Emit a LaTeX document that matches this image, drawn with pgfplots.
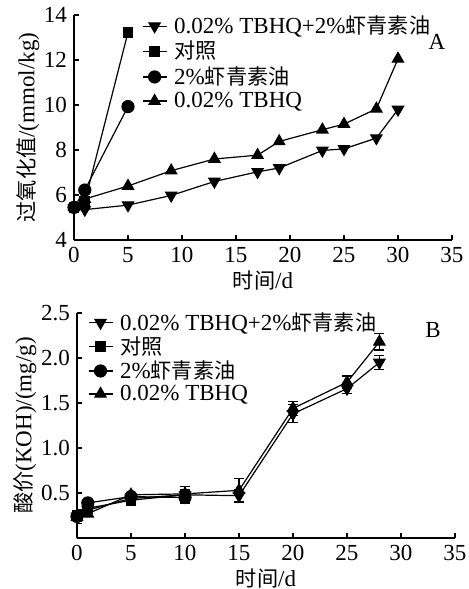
\documentclass[border=0pt]{standalone}
\usepackage{fontspec}
\setmainfont{Liberation Serif}
\newfontfamily\cjk[Scale=0.92]{Noto Sans CJK SC}
\usepackage{pgfplots}
\pgfplotsset{compat=1.18}

\pgfplotsset{
  chart/.style={
    scale only axis, width=189pt, height=112.5pt,
    axis lines*=left, axis line style={-, line width=0.7pt},
    tick align=inside, major tick length=2.5pt, tick style={line width=0.6pt, black},
    xmin=0, xmax=35, xtick={0,5,...,35},
    font=\fontsize{11.5}{13.5}\selectfont,
    /pgf/number format/assume math mode=true,
    xlabel={{\cjk 时间}/d},
    xlabel style={at={(axis description cs:0.5,-0.178)}, anchor=center},
    legend cell align=left,
    legend style={draw=none, fill=none, anchor=north west, row sep=0.3pt,
      font=\fontsize{11.5}{13.5}\selectfont, nodes={inner sep=1pt}},
    legend image code/.code={\draw[mark repeat=2, mark phase=2] plot coordinates {(0pt,0pt) (6pt,0pt) (12pt,0pt)};
      \path (14.5pt,0pt);},
    every axis plot/.append style={black, line width=0.6pt},
  },
  sdown/.style={mark=triangle*, mark size=3.2pt, mark options={rotate=180, solid, fill=black}},
  sctrl/.style={mark=square*, mark size=2.4pt, mark options={solid, fill=black}},
  sastx/.style={mark=*, mark size=3pt, mark options={solid, fill=black}},
  sup/.style={mark=triangle*, mark size=3.2pt, mark options={solid, fill=black}},
  ebar/.style={error bars/.cd, y dir=both, y explicit,
    error mark options={rotate=90, mark size=2.5pt, line width=0.6pt, black},
    error bar style={line width=0.6pt, black}},
}

\begin{document}
\begin{tikzpicture}
\useasboundingbox (-37pt,-174.5pt) rectangle (197.5pt,120pt);

% A: peroxide value
\begin{axis}[chart, at={(0pt,0pt)},
  ymin=4, ymax=14, ytick={4,6,...,14},
  ylabel={{\cjk 过氧化值}/(mmol/kg)},
  ylabel style={at={(axis description cs:-0.122,0.5)}, anchor=center},
  legend style={at={(axis description cs:0.163,1.025)}},
]
\addplot[sdown] coordinates {(0,5.42) (1,5.35) (5,5.55) (9,5.98) (13,6.6) (17,7.03) (19,7.2) (23,7.98) (25,8.05) (28,8.53) (30,9.8)};
\addlegendentry{0.02\% TBHQ+2\%{\cjk 虾青素油}}
\addplot[sctrl] coordinates {(0,5.45) (1,5.7) (5,13.23)};
\addlegendentry{{\cjk 对照}}
\addplot[sastx] coordinates {(0,5.45) (1,6.22) (5,9.93)};
\addlegendentry{2\%{\cjk 虾青素油}}
\addplot[sup] coordinates {(0,5.45) (1,5.82) (5,6.4) (9,7.08) (13,7.6) (17,7.77) (19,8.38) (23,8.9) (25,9.15) (28,9.83) (30,12.05)};
\addlegendentry{0.02\% TBHQ}
\node at (rel axis cs:0.96,0.881) {A};
\end{axis}

% B: acid value
\begin{axis}[chart, at={(1.5pt,-149pt)},
  ymin=0, ymax=2.5, ytick={0.5,1.0,...,2.5},
  yticklabel style={/pgf/number format/.cd, fixed, fixed zerofill, precision=1},
  ylabel={{\cjk 酸价}(KOH)/(mg/g)},
  ylabel style={at={(axis description cs:-0.138,0.5)}, anchor=center},
  legend style={at={(axis description cs:0.012,1.032)}, row sep=-0.3pt},
]
\addplot[sdown, ebar] table[x=x, y=y, y error=e] {
x  y    e
0  0.24 0.08
1  0.31 0.03
5  0.44 0.03
10 0.48 0.03
15 0.47 0.07
20 1.38 0.10
25 1.66 0.05
28 1.95 0.08
};
\addlegendentry{0.02\% TBHQ+2\%{\cjk 虾青素油}}
\addplot[sctrl, ebar] table[x=x, y=y, y error=e] {
x  y    e
0  0.25 0.05
1  0.33 0.03
5  0.42 0.03
10 0.48 0.09
};
\addlegendentry{{\cjk 对照}}
\addplot[sastx, ebar] table[x=x, y=y, y error=e] {
x  y    e
0  0.24 0.04
1  0.39 0.02
5  0.46 0.03
10 0.45 0.03
};
\addlegendentry{2\%{\cjk 虾青素油}}
\addplot[sup, ebar] table[x=x, y=y, y error=e] {
x  y    e
0  0.23 0.05
1  0.27 0.03
5  0.48 0.03
10 0.49 0.05
15 0.53 0.13
20 1.44 0.08
25 1.73 0.07
28 2.18 0.09
};
\addlegendentry{0.02\% TBHQ}
\node at (rel axis cs:0.942,0.926) {B};
\end{axis}
\end{tikzpicture}
\end{document}
